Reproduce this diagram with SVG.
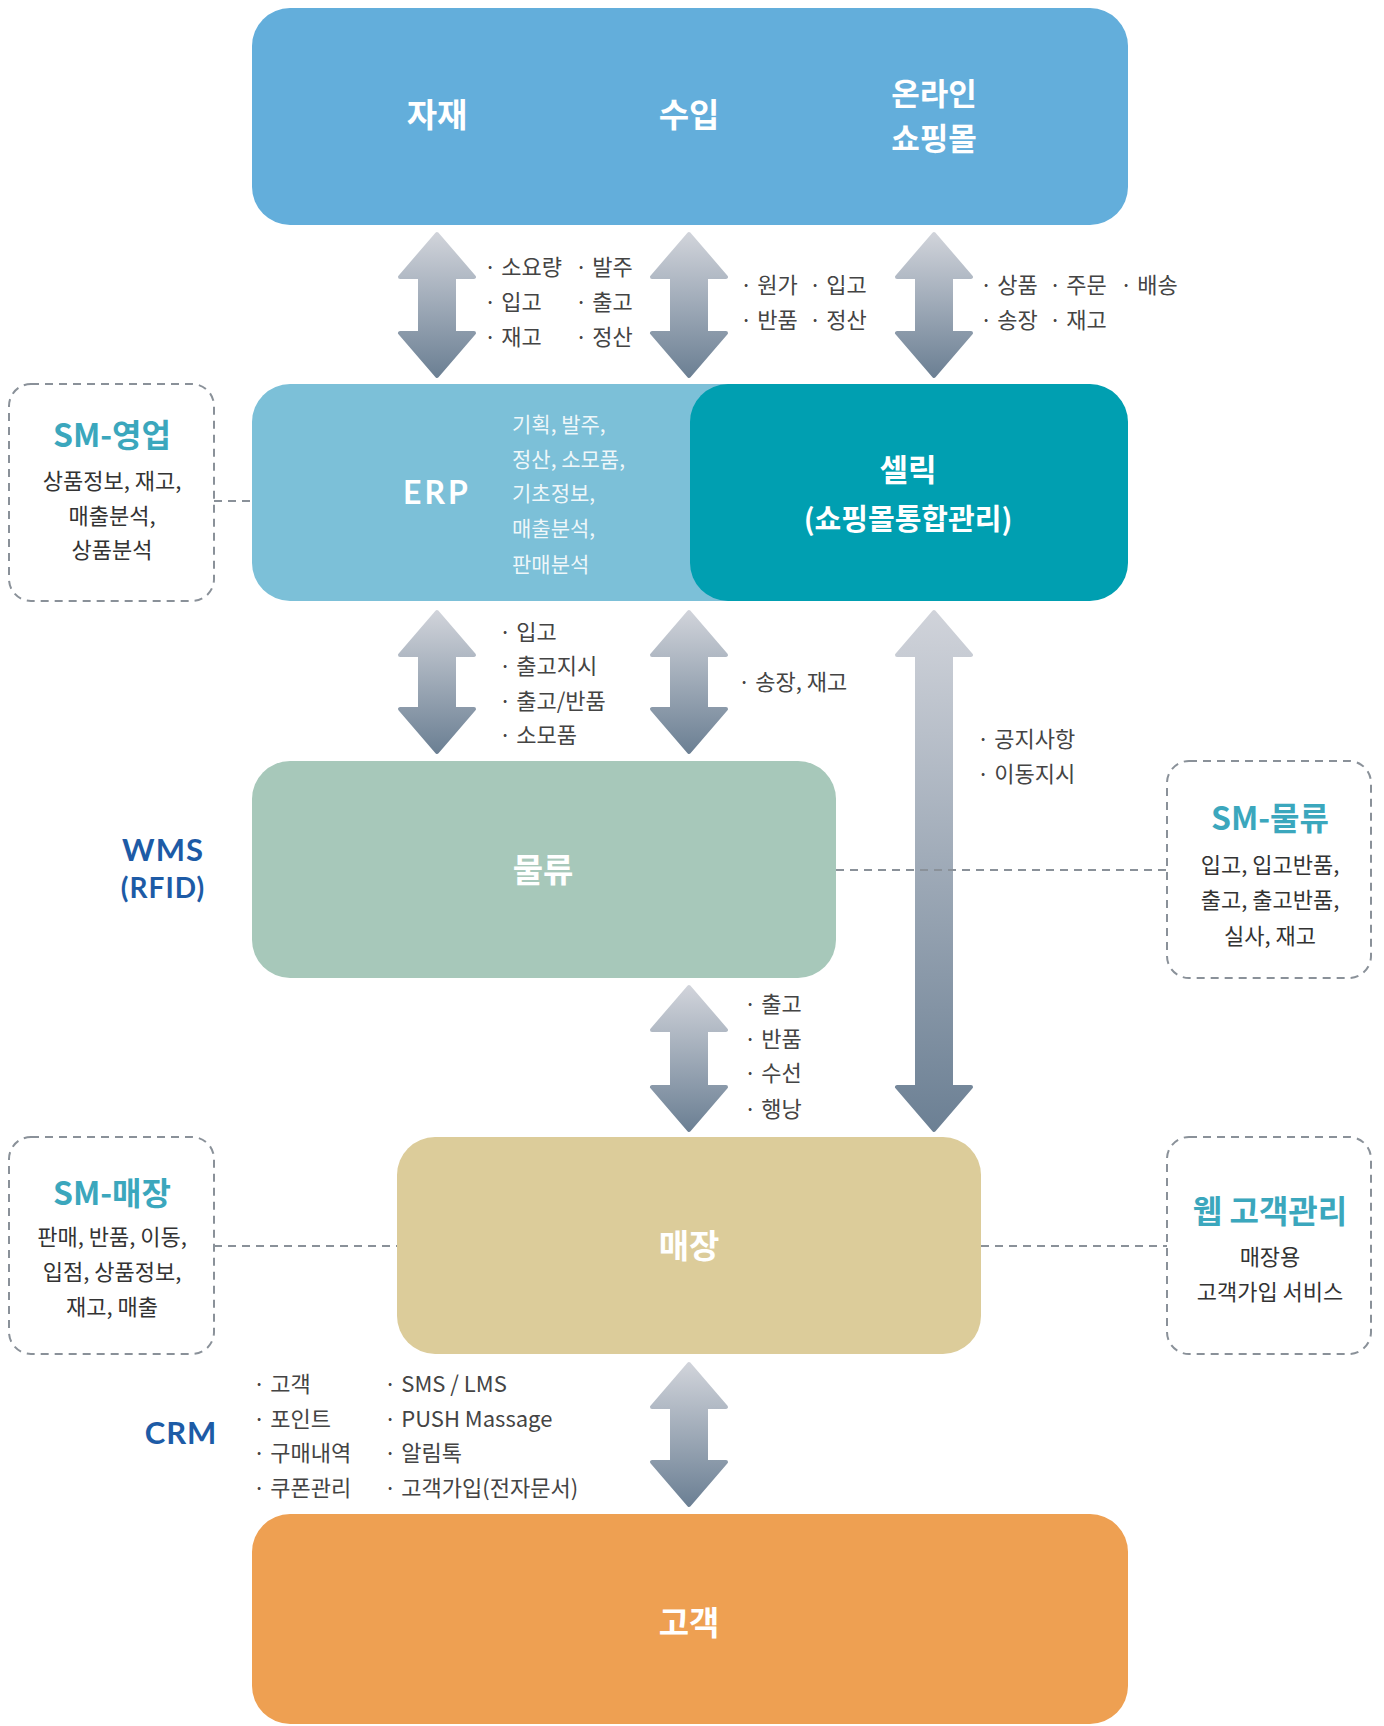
<svg xmlns="http://www.w3.org/2000/svg" width="1384" height="1726" viewBox="0 0 1384 1726">
<defs>
<linearGradient id="ag" x1="0" y1="0" x2="0" y2="1">
<stop offset="0" stop-color="#d0d3da"/>
<stop offset="1" stop-color="#6c8094"/>
</linearGradient>
<style>
text{font-family:"Noto Sans CJK KR","Noto Sans",sans-serif;dominant-baseline:central}
.big{font-size:33px;font-weight:700;fill:#fff;text-anchor:middle}
.lbl{font-size:22px;fill:#444}
.erpl{font-size:21px;fill:#fff;fill-opacity:0.88}
.sm{fill:#fff;stroke:#8a9199;stroke-width:2;stroke-dasharray:8 6}
.smt{font-size:32px;font-weight:700;fill:#3ba7bd;text-anchor:middle}
.smb{font-size:22px;fill:#333;text-anchor:middle}
.side{font-size:31px;font-weight:700;fill:#1d5ba6;text-anchor:middle;font-family:"Lato","Noto Sans",sans-serif;letter-spacing:1px}
.dash{stroke:#8a9199;stroke-width:2;stroke-dasharray:8 6;fill:none}
.arr{fill:url(#ag);stroke:url(#ag);stroke-width:4;stroke-linejoin:round}
</style>
</defs>

<g id="connectors">
<path class="arr" d="M437,234 L474,277 L454,277 L454,333 L474,333 L437,376 L400,333 L420,333 L420,277 L400,277 Z"/>
<path class="arr" d="M689,234 L726,277 L706,277 L706,333 L726,333 L689,376 L652,333 L672,333 L672,277 L652,277 Z"/>
<path class="arr" d="M934,234 L971,277 L951,277 L951,333 L971,333 L934,376 L897,333 L917,333 L917,277 L897,277 Z"/>
<path class="arr" d="M437,612 L474,655 L454,655 L454,709 L474,709 L437,752 L400,709 L420,709 L420,655 L400,655 Z"/>
<path class="arr" d="M689,612 L726,655 L706,655 L706,709 L726,709 L689,752 L652,709 L672,709 L672,655 L652,655 Z"/>
<path class="arr" d="M934,612 L971,655 L951,655 L951,1087 L971,1087 L934,1130 L897,1087 L917,1087 L917,655 L897,655 Z"/>
<path class="arr" d="M689,987 L726,1030 L706,1030 L706,1087 L726,1087 L689,1130 L652,1087 L672,1087 L672,1030 L652,1030 Z"/>
<path class="arr" d="M689,1364 L726,1407 L706,1407 L706,1462 L726,1462 L689,1505 L652,1462 L672,1462 L672,1407 L652,1407 Z"/>
<line class="dash" x1="214" y1="501" x2="252" y2="501"/>
<line class="dash" x1="836" y1="870" x2="1167" y2="870"/>
<line class="dash" x1="214" y1="1246" x2="397" y2="1246"/>
<line class="dash" x1="981" y1="1246" x2="1167" y2="1246"/>
</g>

<g id="arrow-labels">
<text class="lbl" x="484" y="265">· 소요량</text><text class="lbl" x="575" y="265">· 발주</text>
<text class="lbl" x="484" y="300">· 입고</text><text class="lbl" x="575" y="300">· 출고</text>
<text class="lbl" x="484" y="335">· 재고</text><text class="lbl" x="575" y="335">· 정산</text>
<text class="lbl" x="740" y="283">· 원가</text><text class="lbl" x="809" y="283">· 입고</text>
<text class="lbl" x="740" y="318">· 반품</text><text class="lbl" x="809" y="318">· 정산</text>
<text class="lbl" x="980" y="283">· 상품</text><text class="lbl" x="1049" y="283">· 주문</text><text class="lbl" x="1120" y="283">· 배송</text>
<text class="lbl" x="980" y="318">· 송장</text><text class="lbl" x="1049" y="318">· 재고</text>
<text class="lbl" x="499" y="630">· 입고</text>
<text class="lbl" x="499" y="664">· 출고지시</text>
<text class="lbl" x="499" y="699">· 출고/반품</text>
<text class="lbl" x="499" y="733">· 소모품</text>
<text class="lbl" x="738" y="680">· 송장, 재고</text>
<text class="lbl" x="977" y="737">· 공지사항</text>
<text class="lbl" x="977" y="772">· 이동지시</text>
<text class="lbl" x="744" y="1002">· 출고</text>
<text class="lbl" x="744" y="1037">· 반품</text>
<text class="lbl" x="744" y="1071">· 수선</text>
<text class="lbl" x="744" y="1107">· 행낭</text>
<text class="lbl" x="253" y="1382">· 고객</text>
<text class="lbl" x="253" y="1417">· 포인트</text>
<text class="lbl" x="253" y="1451">· 구매내역</text>
<text class="lbl" x="253" y="1486">· 쿠폰관리</text>
<text class="lbl" x="384" y="1382">· SMS / LMS</text>
<text class="lbl" x="384" y="1417">· PUSH Massage</text>
<text class="lbl" x="384" y="1451">· 알림톡</text>
<text class="lbl" x="384" y="1486">· 고객가입(전자문서)</text>
</g>

<g id="node-top">
<rect x="252" y="8" width="876" height="217" rx="38" fill="#63aedb"/>
<text class="big" x="437" y="113">자재</text>
<text class="big" x="689" y="113">수입</text>
<text class="big" x="934" y="91" style="font-size:31px">온라인</text>
<text class="big" x="934" y="136" style="font-size:31px">쇼핑몰</text>
</g>

<g id="node-erp">
<rect x="252" y="384" width="520" height="217" rx="38" fill="#7cc0d8"/>
<text class="big" x="437" y="491" style="font-family:Lato,'Noto Sans',sans-serif;letter-spacing:3px;font-size:32px">ERP</text>
<text class="erpl" x="512" y="423">기획, 발주,</text>
<text class="erpl" x="512" y="458">정산, 소모품,</text>
<text class="erpl" x="512" y="492">기초정보,</text>
<text class="erpl" x="512" y="527">매출분석,</text>
<text class="erpl" x="512" y="563">판매분석</text>
</g>

<g id="node-cellic">
<rect x="690" y="384" width="438" height="217" rx="38" fill="#009fb1"/>
<text class="big" x="908" y="467" style="font-size:31px">셀릭</text>
<text class="big" x="908" y="517" style="font-size:29px">(쇼핑몰통합관리)</text>
</g>

<g id="node-sm-sales">
<rect class="sm" x="9" y="384" width="205" height="217" rx="22"/>
<text class="smt" x="112" y="433">SM-영업</text>
<text class="smb" x="112" y="479">상품정보, 재고,</text>
<text class="smb" x="112" y="514">매출분석,</text>
<text class="smb" x="112" y="548">상품분석</text>
</g>

<g id="node-logistics">
<rect x="252" y="761" width="584" height="217" rx="38" fill="#a7c8ba"/>
<text class="big" x="543" y="868">물류</text>
</g>

<g id="node-wms">
<text class="side" x="163" y="849">WMS</text>
<text class="side" x="163" y="887" style="font-size:28px">(RFID)</text>
</g>

<g id="node-sm-logistics">
<rect class="sm" x="1167" y="761" width="204" height="217" rx="22"/>
<text class="smt" x="1270" y="816">SM-물류</text>
<text class="smb" x="1270" y="863">입고, 입고반품,</text>
<text class="smb" x="1270" y="898">출고, 출고반품,</text>
<text class="smb" x="1270" y="934">실사, 재고</text>
</g>

<g id="node-store">
<rect x="397" y="1137" width="584" height="217" rx="38" fill="#dccc9a"/>
<text class="big" x="689" y="1244">매장</text>
</g>

<g id="node-sm-store">
<rect class="sm" x="9" y="1137" width="205" height="217" rx="22"/>
<text class="smt" x="112" y="1191">SM-매장</text>
<text class="smb" x="112" y="1235">판매, 반품, 이동,</text>
<text class="smb" x="112" y="1270">입점, 상품정보,</text>
<text class="smb" x="112" y="1305">재고, 매출</text>
</g>

<g id="node-web-crm">
<rect class="sm" x="1167" y="1137" width="204" height="217" rx="22"/>
<text class="smt" x="1270" y="1209">웹 고객관리</text>
<text class="smb" x="1270" y="1255">매장용</text>
<text class="smb" x="1270" y="1290">고객가입 서비스</text>
</g>

<g id="node-crm">
<text class="side" x="181" y="1432">CRM</text>
</g>

<g id="node-customer">
<rect x="252" y="1514" width="876" height="210" rx="38" fill="#eea052"/>
<text class="big" x="689" y="1621">고객</text>
</g>
</svg>
